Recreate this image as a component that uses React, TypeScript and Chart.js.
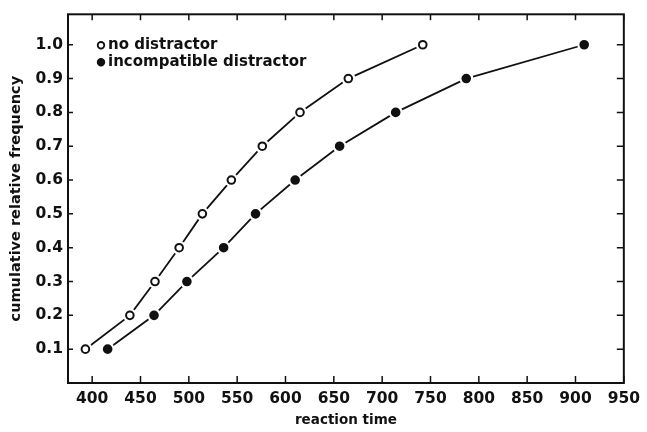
import React, { useEffect, useRef } from "react";
import { Chart, registerables } from "chart.js";

Chart.register(...registerables);

const SERIES_NAMES = ["no distractor", "incompatible distractor"];
const NO_DISTRACTOR_RT = [393, 439, 465, 490, 514, 544, 576, 615, 665, 742];
const NO_DISTRACTOR_FREQ = [0.1, 0.2, 0.3, 0.4, 0.5, 0.6, 0.7, 0.8, 0.9, 1.0];
const INCOMPATIBLE_RT = [416, 464, 498, 536, 569, 610, 656, 714, 787, 909];
const INCOMPATIBLE_FREQ = [0.1, 0.2, 0.3, 0.4, 0.5, 0.6, 0.7, 0.8, 0.9, 1.0];
const X_TICKS = [400, 450, 500, 550, 600, 650, 700, 750, 800, 850, 900, 950];
const Y_TICKS = [0.1, 0.2, 0.3, 0.4, 0.5, 0.6, 0.7, 0.8, 0.9, 1.0];
const X_TITLE = "reaction time";
const Y_TITLE = "cumulative relative frequency";

const FONT = "'DejaVu Sans', 'Liberation Sans', sans-serif";
const INK = "#111";

const framePlugin = {
  id: "frame",
  afterDatasetsDraw(chart: any) {
    const ctx = chart.ctx;
    // white halos around points, then redraw points (gap between line and marker)
    chart.data.datasets.forEach((_: any, di: number) => {
      const meta = chart.getDatasetMeta(di);
      meta.data.forEach((pt: any) => {
        ctx.save();
        ctx.fillStyle = "#fff";
        ctx.beginPath();
        ctx.arc(pt.x, pt.y, 7, 0, Math.PI * 2);
        ctx.fill();
        ctx.restore();
        pt.draw(ctx, chart.chartArea);
      });
    });
  },
  afterDraw(chart: any) {
    const ctx = chart.ctx;
    const a = chart.chartArea;
    const xs = chart.scales.x;
    const ys = chart.scales.y;
    ctx.save();
    ctx.strokeStyle = INK;
    ctx.lineWidth = 2;
    ctx.strokeRect(a.left, a.top, a.right - a.left, a.bottom - a.top);
    ctx.lineWidth = 1.5;
    ctx.beginPath();
    X_TICKS.forEach((v) => {
      const px = xs.getPixelForValue(v);
      ctx.moveTo(px, a.bottom);
      ctx.lineTo(px, a.bottom - 7);
      ctx.moveTo(px, a.top);
      ctx.lineTo(px, a.top + 6);
    });
    Y_TICKS.forEach((v) => {
      const py = ys.getPixelForValue(v);
      ctx.moveTo(a.left, py);
      ctx.lineTo(a.left + 5, py);
      ctx.moveTo(a.right, py);
      ctx.lineTo(a.right - 7, py);
    });
    ctx.stroke();

    // legend inside the plot
    const lx = a.left + 33;
    const rows = [a.top + 31, a.top + 48];
    chart.data.datasets.forEach((ds: any, i: number) => {
      const y = rows[i];
      ctx.beginPath();
      ctx.arc(lx, y, 3.3, 0, Math.PI * 2);
      ctx.fillStyle = ds.pointBackgroundColor;
      ctx.fill();
      ctx.lineWidth = 1.8;
      ctx.strokeStyle = INK;
      ctx.stroke();
      ctx.fillStyle = INK;
      ctx.font = `bold 15px ${FONT}`;
      ctx.textAlign = "left";
      ctx.textBaseline = "middle";
      ctx.fillText(ds.label, lx + 7, y);
    });
    ctx.restore();
  },
};

export default function App() {
  const ref = useRef<HTMLCanvasElement | null>(null);
  useEffect(() => {
    if (!ref.current) return;
    const chart = new Chart(ref.current, {
      type: "line",
      data: {
        datasets: [
          {
            label: SERIES_NAMES[0],
            data: NO_DISTRACTOR_RT.map((x, i) => ({ x, y: NO_DISTRACTOR_FREQ[i] })),
            borderColor: INK,
            borderWidth: 1.8,
            pointRadius: 3.8,
            pointBorderWidth: 2,
            pointBackgroundColor: "#fff",
            pointBorderColor: INK,
            tension: 0,
            fill: false,
          },
          {
            label: SERIES_NAMES[1],
            data: INCOMPATIBLE_RT.map((x, i) => ({ x, y: INCOMPATIBLE_FREQ[i] })),
            borderColor: INK,
            borderWidth: 1.8,
            pointRadius: 3.8,
            pointBorderWidth: 2,
            pointBackgroundColor: INK,
            pointBorderColor: INK,
            tension: 0,
            fill: false,
          },
        ],
      },
      options: {
        animation: false,
        responsive: false,
        maintainAspectRatio: false,
        layout: { padding: { left: 0, top: 8, right: 18, bottom: 0 } },
        plugins: { legend: { display: false }, tooltip: { enabled: false } },
        scales: {
          x: {
            type: "linear",
            min: 375,
            max: 950,
            grid: { display: false, drawTicks: false },
            border: { display: false },
            afterBuildTicks: (s: any) => {
              s.ticks = X_TICKS.map((v) => ({ value: v }));
            },
            afterFit: (s: any) => {
              s.height = 49;
            },
            ticks: {
              color: INK,
              padding: 7,
              maxRotation: 0,
              autoSkip: false,
              font: { family: FONT, size: 15.5, weight: "bold" },
              callback: (v: any) => String(v),
            },
            title: {
              display: true,
              text: X_TITLE,
              color: INK,
              padding: { top: 4, bottom: 3 },
              font: { family: FONT, size: 13.5, weight: "bold" },
            },
          },
          y: {
            type: "linear",
            min: 0,
            max: 1.09,
            grid: { display: false, drawTicks: false },
            border: { display: false },
            afterBuildTicks: (s: any) => {
              s.ticks = Y_TICKS.map((v) => ({ value: v }));
            },
            afterFit: (s: any) => {
              s.width = 68;
            },
            ticks: {
              color: INK,
              padding: 5,
              autoSkip: false,
              font: { family: FONT, size: 15.5, weight: "bold" },
              callback: (v: any) => Number(v).toFixed(1),
            },
            title: {
              display: true,
              text: Y_TITLE,
              color: INK,
              padding: { top: 8, bottom: 4 },
              font: { family: FONT, size: 14.5, weight: "bold" },
            },
          },
        },
      },
      plugins: [framePlugin],
    });
    return () => chart.destroy();
  }, []);
  return (
    <div style={{ position: "fixed", left: 0, top: 0, width: 647, height: 432, background: "#fff" }}>
      <canvas ref={ref} width={647} height={432} style={{ display: "block" }} />
    </div>
  );
}
